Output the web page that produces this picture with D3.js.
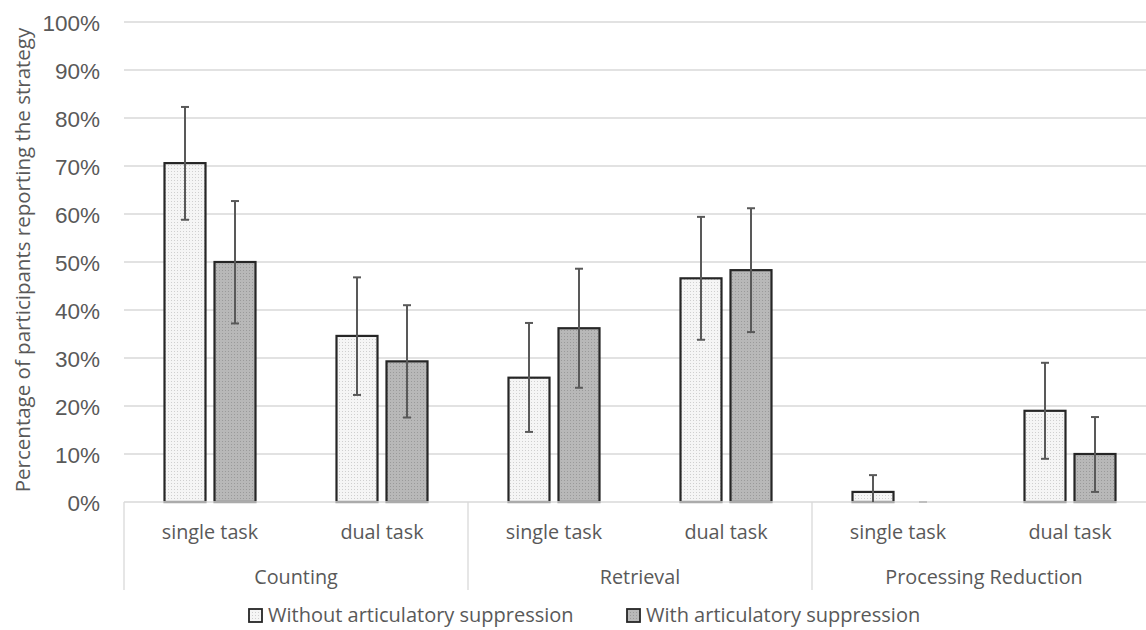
<!DOCTYPE html>
<html><head><meta charset="utf-8">
<script src="https://cdn.jsdelivr.net/npm/d3@7"></script>
<style>body{margin:0;background:#fff;}svg{display:block;}</style>
</head><body>
<svg id="c" width="1146" height="630"></svg>
<script>
const groups = ["Counting", "Retrieval", "Processing Reduction"];
const tasks = ["single task", "dual task"];
const seriesNames = ["Without articulatory suppression", "With articulatory suppression"];
// order: Counting single, Counting dual, Retrieval single, Retrieval dual, PR single, PR dual
const withoutVals  = [70.6, 34.6, 25.9, 46.6, 2.1, 19.0];
const withoutLower = [58.8, 22.3, 14.6, 33.8, 0.0, 9.0];
const withoutUpper = [82.3, 46.8, 37.3, 59.4, 5.6, 29.0];
const withVals     = [50.0, 29.3, 36.2, 48.3, 0.0, 10.0];
const withLower    = [37.2, 17.6, 23.8, 35.4, 0.0, 2.1];
const withUpper    = [62.7, 41.0, 48.6, 61.2, 0.0, 17.7];
const yTicks = [0,10,20,30,40,50,60,70,80,90,100];

(function(){
const svg = d3.select("#c");
const textCol = "#595959";
const pLeft = 124, pRight = 1156, pTop = 22, pBottom = 502;

const cats = [];
groups.forEach(g => tasks.forEach(t => cats.push(g + "|" + t)));

const x = d3.scaleBand().domain(cats).range([pLeft, pRight]).paddingInner(0).paddingOuter(0);
const y = d3.scaleLinear().domain([0, 100]).range([pBottom, pTop]);
const barW = 41, gap = 9;

const defs = svg.append("defs");
function pat(id, bg, dot) {
  const p = defs.append("pattern").attr("id", id).attr("patternUnits", "userSpaceOnUse")
    .attr("width", 3).attr("height", 3);
  p.append("rect").attr("width", 3).attr("height", 3).attr("fill", bg);
  p.append("rect").attr("width", 1).attr("height", 1).attr("fill", dot);
}
pat("pLight", "#f5f5f5", "#cfcfcf");
pat("pDark", "#b8b8b8", "#9a9a9a");

svg.append("g").selectAll("line").data(yTicks.filter(d => d > 0)).join("line")
  .attr("x1", pLeft).attr("x2", pRight)
  .attr("y1", d => y(d)).attr("y2", d => y(d))
  .attr("stroke", "#d9d9d9").attr("stroke-width", 1.3);

const yAxis = d3.axisLeft(y).tickValues(yTicks).tickFormat(d => d + "%").tickSize(0).tickPadding(0);
const ya = svg.append("g").attr("transform", `translate(100,0)`).call(yAxis);
ya.select(".domain").remove();
ya.selectAll("text").attr("fill", textCol).attr("font-family", "Liberation Sans, Arial, sans-serif")
  .attr("font-size", 22.5).attr("dy", "0.36em");

svg.append("text").attr("transform", `translate(30,${260}) rotate(-90)`)
  .attr("text-anchor", "middle").attr("fill", textCol)
  .attr("font-family", "Open Sans, sans-serif").attr("font-size", 20.5)
  .text("Percentage of participants reporting the strategy");

const series = [
  {vals: withoutVals, lo: withoutLower, hi: withoutUpper, fill: "url(#pLight)", off: -gap/2 - barW},
  {vals: withVals, lo: withLower, hi: withUpper, fill: "url(#pDark)", off: gap/2}
];
const cx = c => x(c) + x.bandwidth() / 2;
series.forEach(s => {
  const g = svg.append("g");
  g.selectAll("rect").data(cats.map((c, i) => ({c, v: s.vals[i]})).filter(d => d.v > 0))
    .join("rect")
    .attr("x", d => cx(d.c) + s.off).attr("width", barW)
    .attr("y", d => y(d.v)).attr("height", d => y(0) - y(d.v))
    .attr("fill", s.fill).attr("stroke", "#262626").attr("stroke-width", 2.2);
});

svg.append("line").attr("x1", pLeft).attr("x2", pRight).attr("y1", pBottom).attr("y2", pBottom)
  .attr("stroke", "#d9d9d9").attr("stroke-width", 1.5);

series.forEach(s => {
  const data = cats.map((c, i) => ({c, lo: s.lo[i], hi: s.hi[i]}));
  const g = svg.append("g").attr("stroke", "#595959").attr("stroke-width", 2);
  data.forEach(d => {
    const xc = cx(d.c) + s.off + barW / 2;
    if (d.hi - d.lo > 0) {
      g.append("line").attr("x1", xc).attr("x2", xc).attr("y1", y(d.hi)).attr("y2", y(d.lo));
      g.append("line").attr("x1", xc - 4).attr("x2", xc + 4).attr("y1", y(d.hi)).attr("y2", y(d.hi));
      if (d.lo > 0) g.append("line").attr("x1", xc - 4).attr("x2", xc + 4).attr("y1", y(d.lo)).attr("y2", y(d.lo));
    } else {
      g.append("line").attr("x1", xc - 4).attr("x2", xc + 4).attr("y1", y(d.hi)).attr("y2", y(d.hi))
        .attr("stroke", "#bfbfbf");
    }
  });
});

const tg = svg.append("g").attr("font-family", "Open Sans, sans-serif").attr("fill", textCol).attr("font-size", 19.8);
tg.selectAll("text").data(cats).join("text")
  .attr("x", d => cx(d)).attr("y", 539).attr("text-anchor", "middle")
  .text(d => d.split("|")[1]);

const gw = x.bandwidth() * tasks.length;
const gg = svg.append("g").attr("font-family", "Open Sans, sans-serif").attr("fill", textCol).attr("font-size", 19.8);
gg.selectAll("text").data(groups).join("text")
  .attr("x", d => x(d + "|" + tasks[0]) + gw / 2).attr("y", 584).attr("text-anchor", "middle")
  .text(d => d);

const seps = groups.map(g => x(g + "|" + tasks[0])).concat([pRight]);
svg.append("g").selectAll("line").data(seps).join("line")
  .attr("x1", d => d).attr("x2", d => d).attr("y1", pBottom).attr("y2", 590)
  .attr("stroke", "#d9d9d9").attr("stroke-width", 1.3);

const legX = [249, 627];
const lg = svg.append("g").attr("font-family", "Open Sans, sans-serif").attr("font-size", 20).attr("fill", textCol);
seriesNames.forEach((n, i) => {
  lg.append("rect").attr("x", legX[i]).attr("y", 609).attr("width", 13).attr("height", 13)
    .attr("fill", series[i].fill).attr("stroke", "#262626").attr("stroke-width", 1.8);
  lg.append("text").attr("x", legX[i] + 19).attr("y", 622).text(n);
});
})();
</script>
</body></html>
